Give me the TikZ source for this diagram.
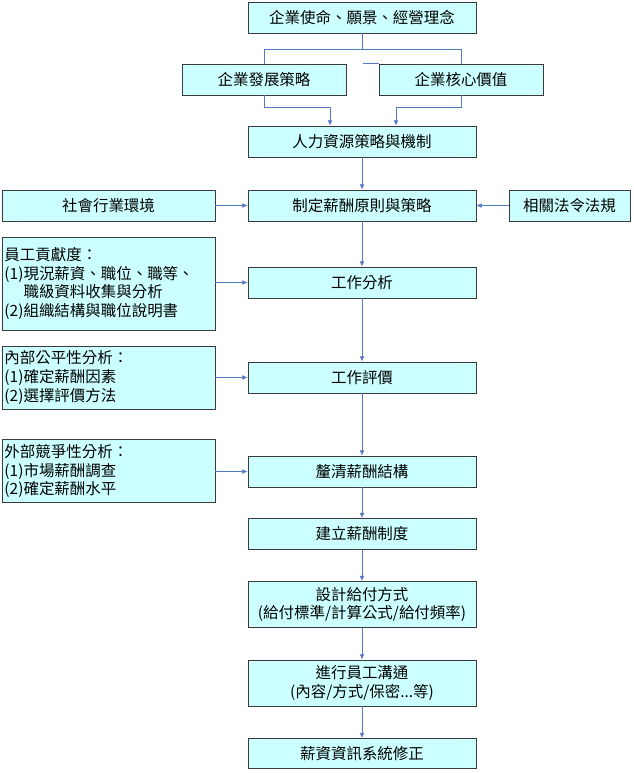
\documentclass[tikz,border=0pt]{standalone}
\usepackage{fontspec}
\setmainfont{Noto Sans CJK TC}
\usetikzlibrary{arrows.meta,shadows,calc}
\definecolor{boxfill}{HTML}{CCFFFF}
\definecolor{boxline}{HTML}{3A3A3A}
\definecolor{conn}{HTML}{5479C4}
\tikzset{
  box/.style={draw=boxline, line width=0.6pt, fill=boxfill, inner sep=1.5pt,
    general shadow={shadow xshift=0.6pt, shadow yshift=-0.6pt, fill=black!75},
    font=\fontsize{11.6}{14}\selectfont},
  mainbox/.style={box, minimum width=171pt, minimum height=23.25pt},
  tallbox/.style={box, minimum width=171pt, minimum height=34.5pt, align=center},
  leftbox/.style={box, minimum width=159.75pt, text width=156pt, align=left},
  link/.style={draw=conn, line width=0.6pt},
  arr/.style={link, -{Latex[length=4pt,width=3.6pt]}},
}
\begin{document}
\begin{tikzpicture}[x=0.75pt,y=-0.75pt]
\useasboundingbox (0,0) rectangle (634,773);
% main column
\node[mainbox] (n1) at (362,17.5) {企業使命、願景、經營理念};
\node[box, minimum width=123pt, minimum height=23.25pt] (n2a) at (264,79.5) {企業發展策略};
\node[box, minimum width=123pt, minimum height=23.25pt] (n2b) at (461,79.5) {企業核心價值};
\node[mainbox] (n3) at (362,141.5) {人力資源策略與機制};
\node[mainbox] (n4) at (362,205.5) {制定薪酬原則與策略};
\node[box, minimum width=159.75pt, minimum height=23.25pt] (s1) at (108.5,205.5) {社會行業環境};
\node[box, minimum width=90.75pt, minimum height=23.25pt] (s2) at (569.5,205.5) {相關法令法規};
\node[leftbox, minimum height=69.75pt] (e1) at (108.5,283.5) {員工貢獻度：\\(1)現況薪資、職位、職等、\\\phantom{(1)}職級資料收集與分析\\(2)組織結構與職位說明書};
\node[mainbox] (n5) at (362,282.5) {工作分析};
\node[leftbox, minimum height=47.25pt] (e2) at (108.5,377.5) {內部公平性分析：\\(1)確定薪酬因素\\(2)選擇評價方法};
\node[mainbox] (n6) at (362,377.5) {工作評價};
\node[leftbox, minimum height=47.25pt] (e3) at (108.5,471) {外部競爭性分析：\\(1)市場薪酬調查\\(2)確定薪酬水平};
\node[mainbox] (n7) at (362,471.5) {釐清薪酬結構};
\node[mainbox] (n8) at (362,534) {建立薪酬制度};
\node[tallbox] (n9) at (362,604.5) {設計給付方式\\(給付標準/計算公式/給付頻率)};
\node[tallbox] (n10) at (362,683) {進行員工溝通\\(內容/方式/保密...等)};
\node[mainbox, minimum height=22.5pt] (n11) at (362,753.5) {薪資資訊系統修正};
% top split
\coordinate (j1) at (362,49);
\draw[link] (n1.south) -- (j1);
\draw[link] (j1) -| (n2a.north);
\draw[link] (j1) -| (n2b.north);
\coordinate (k1) at (363,63);
\draw[link] (k1) -- (n2b.north west |- k1);
% merge into n3
\draw[arr] (n2a.south) -- ++(0,12) -| ([xshift=-24pt]n3.north);
\draw[arr] (n2b.south) -- ++(0,12) -| ([xshift=25.5pt]n3.north);
% vertical chain
\draw[arr] (n3) -- (n4);
\draw[arr] (n4) -- (n5);
\draw[arr] (n5) -- (n6);
\draw[arr] (n6) -- (n7);
\draw[arr] (n7) -- (n8);
\draw[arr] (n8) -- (n9);
\draw[arr] (n9) -- (n10);
\draw[arr] (n10) -- (n11);
% side inputs
\draw[arr] (s1) -- (n4);
\draw[arr] (s2) -- (n4);
\draw[arr] (e1.east |- n5) -- (n5);
\draw[arr] (e2) -- (n6);
\draw[arr] (e3.east |- n7) -- (n7);
\end{tikzpicture}
\end{document}
